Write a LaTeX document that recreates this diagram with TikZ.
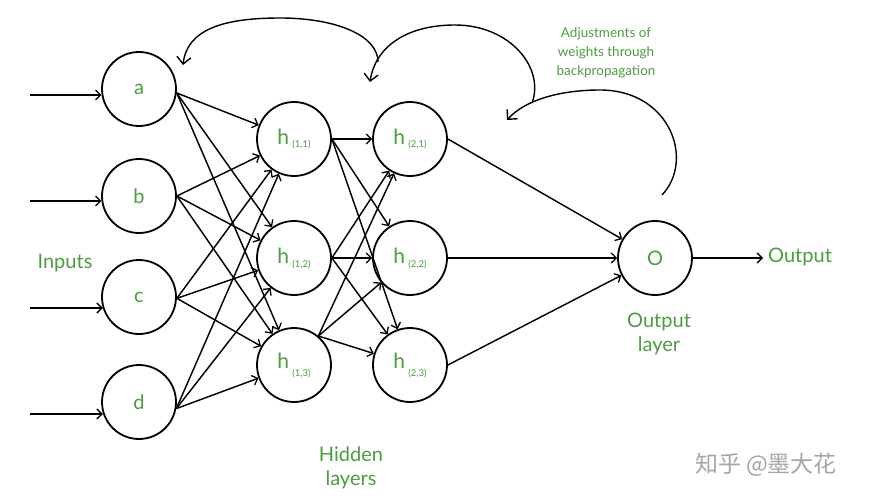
\documentclass[tikz,border=0pt]{standalone}
\usepackage{fontspec}
\setmainfont{Lato}
\newfontfamily\cjk{Noto Sans CJK SC}
\usetikzlibrary{arrows.meta}
\definecolor{lblgreen}{RGB}{78,156,66}
\definecolor{wmgray}{RGB}{165,165,165}
\newcommand{\hlab}[2]{{\fontsize{21}{21}\selectfont h}\,\raisebox{-#2pt}{\fontsize{9.5}{9.5}\selectfont (#1)}}
\tikzset{
  neuron/.style={circle, draw=black, line width=1.8pt, minimum size=74pt, inner sep=0pt,
    text=lblgreen, font=\fontsize{20}{20}\selectfont},
  arr/.style={-{Straight Barb[length=5pt,width=10pt,line width=1.3pt]}, line width=1.45pt},
  backarr/.style={-{Straight Barb[length=7pt,width=14pt,line width=1.4pt]}, line width=1.4pt},
  lbl/.style={text=lblgreen, font=\fontsize{20}{24}\selectfont, align=center, inner sep=0pt},
  note/.style={text=lblgreen, font=\fontsize{13.5}{19}\selectfont, align=center, inner sep=0pt}
}
\begin{document}
\begin{tikzpicture}[x=1pt,y=-1pt]
\useasboundingbox (0,0) rectangle (870,500);
\fill[white] (0,0) rectangle (870,500);
% input layer
\node[neuron] (a) at (139,89) {a};
\node[neuron] (b) at (139,196) {b};
\node[neuron] (c) at (139,297) {c};
\node[neuron] (d) at (139,402) {d};
% hidden layer 1
\node[neuron] (h11) at (294,139) {\hlab{1,1}{3}};
\node[neuron] (h12) at (294,258) {\hlab{1,2}{4}};
\node[neuron] (h13) at (294,365) {\hlab{1,3}{8}};
% hidden layer 2
\node[neuron] (h21) at (410,139) {\hlab{2,1}{3}};
\node[neuron] (h22) at (410,258) {\hlab{2,2}{4}};
\node[neuron] (h23) at (410,365) {\hlab{2,3}{8}};
% output
\node[neuron] (o) at (655,258) {O};
% input arrows
\coordinate (ia) at (30,95);
\coordinate (ib) at (30,201);
\coordinate (ic) at (30,308);
\coordinate (id) at (30,414);
\draw[arr] (ia) -- (ia -| a.188);
\draw[arr] (ib) -- (ib -| b.188);
\draw[arr] (ic) -- (ic -| c.197);
\draw[arr] (id) -- (id -| d.197);
% input -> hidden 1
\foreach \s/\anc in {a/-6, b/0, c/-2, d/-10}{
  \foreach \t in {h11,h12,h13}{
    \draw[arr] (\s.\anc) -- (\t);
  }
}
% hidden 1 -> hidden 2
\foreach \s/\anc in {h11/0, h12/0, h13/50}{
  \foreach \t in {h21,h22,h23}{
    \draw[arr] (\s.\anc) -- (\t);
  }
}
% hidden 2 -> output
\draw[arr] (h21.east) -- (o);
\draw[arr] (h22.east) -- (o);
\draw[arr] (h23.east) -- (o);
\coordinate (oend) at (763,258);
\draw[arr] (o.east) -- (oend);
% labels
\node[lbl, anchor=west] (outtxt) at (768,257) {Output};
\node[lbl] (inputs) at (65,263) {Inputs};
\node[lbl] (hidden) at (351,468) {Hidden\\layers};
\node[lbl] (outlayer) at (659,334) {Output\\layer};
\node[note] (adj) at (606,53) {Adjustments of\\weights through\\backpropagation};
% backpropagation arcs
\coordinate (p1s) at (378,62);
\coordinate (p1e) at (183,65);
\coordinate (p2s) at (532,103);
\coordinate (p2e) at (370,82);
\coordinate (p3s) at (662,195);
\coordinate (p3e) at (507,120);
\draw[backarr] (p1s) .. controls (378,35) and (335,18) .. (280,18)
  .. controls (222,18) and (187,30) .. (p1e);
\draw[backarr] (p2s) .. controls (545,68) and (510,25) .. (455,25)
  .. controls (405,25) and (375,48) .. (p2e);
\draw[backarr] (p3s) .. controls (695,160) and (670,90) .. (600,90)
  .. controls (560,90) and (525,100) .. (p3e);
% watermark
\node[text=wmgray, font=\cjk\fontsize{23}{23}\selectfont, inner sep=0pt] (wm) at (766,465) {知乎 @墨大花};
\end{tikzpicture}
\end{document}
